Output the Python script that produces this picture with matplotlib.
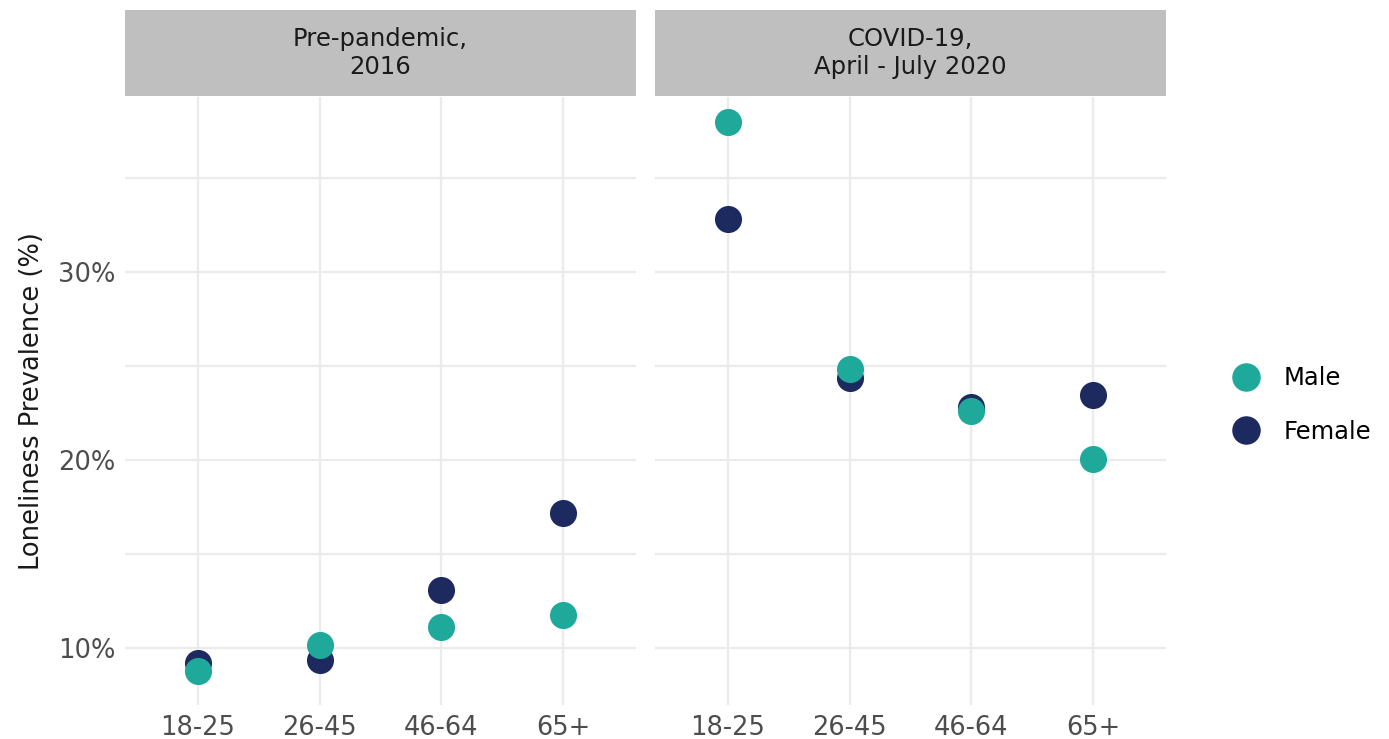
import matplotlib
matplotlib.use('Agg')
import matplotlib.pyplot as plt
from matplotlib.lines import Line2D
import numpy as np

ages = ['18-25', '26-45', '46-64', '65+']
panels = ['Pre-pandemic,\n2016', 'COVID-19,\nApril - July 2020']
male_pre = [8.8, 10.15, 11.1, 11.75]
female_pre = [9.2, 9.35, 13.1, 17.2]
male_covid = [37.95, 24.85, 22.6, 20.05]
female_covid = [32.8, 24.35, 22.8, 23.45]

male_col = '#1fa99a'
female_col = '#1d2a5f'
grid_col = '#ebebeb'

plt.rcParams['font.family'] = ['DejaVu Sans']

fig = plt.figure(figsize=(13.89, 7.39), dpi=100)
x0s = [125 / 1389, 655 / 1389]
w = 511 / 1389
bot = 1 - 705 / 739
h = (705 - 97) / 739
strip_h = (96 - 10) / 739

series = [(female_pre, male_pre), (female_covid, male_covid)]
for i, (fem, mal) in enumerate(series):
    ax = fig.add_axes([x0s[i], bot, w, h])
    x = np.arange(len(ages))
    ax.set_xlim(-0.6, 3.6)
    ax.set_ylim(6.97, 39.3)
    ax.set_yticks([10, 20, 30])
    ax.set_yticks([15, 25, 35], minor=True)
    ax.set_xticks(x)
    ax.set_xticklabels(ages)
    ax.grid(True, which='both', color=grid_col, linewidth=1.6)
    ax.set_axisbelow(True)
    for s in ax.spines.values():
        s.set_visible(False)
    ax.tick_params(which='both', length=0, labelsize=18.5, labelcolor='#4d4d4d', pad=7)
    ax.tick_params(axis='y', which='minor', labelleft=False)
    if i == 0:
        ax.set_yticklabels(['10%', '20%', '30%'])
        ax.set_ylabel('Loneliness Prevalence (%)', fontsize=18.5, color='#1a1a1a', labelpad=9)
    else:
        ax.set_yticklabels([])
    ax.scatter(x, fem, s=380, color=female_col, zorder=3, linewidths=0)
    ax.scatter(x, mal, s=380, color=male_col, zorder=4, linewidths=0)

    sax = fig.add_axes([x0s[i], 1 - 96 / 739, w, strip_h])
    sax.set_facecolor('#bfbfbf')
    sax.set_xticks([])
    sax.set_yticks([])
    for s in sax.spines.values():
        s.set_visible(False)
    sax.text(0.5, 0.5, panels[i], ha='center', va='center', fontsize=17.5,
             color='#1a1a1a', linespacing=1.25, transform=sax.transAxes)

handles = [Line2D([], [], marker='o', linestyle='none', markersize=19.5, color=male_col, label='Male'),
           Line2D([], [], marker='o', linestyle='none', markersize=19.5, color=female_col, label='Female')]
fig.legend(handles=handles, loc='center left', bbox_to_anchor=(1200 / 1389, 1 - 405 / 739),
           frameon=False, fontsize=17.5, labelspacing=1.2, handletextpad=0.55)

fig.savefig('out.png', dpi=100)
